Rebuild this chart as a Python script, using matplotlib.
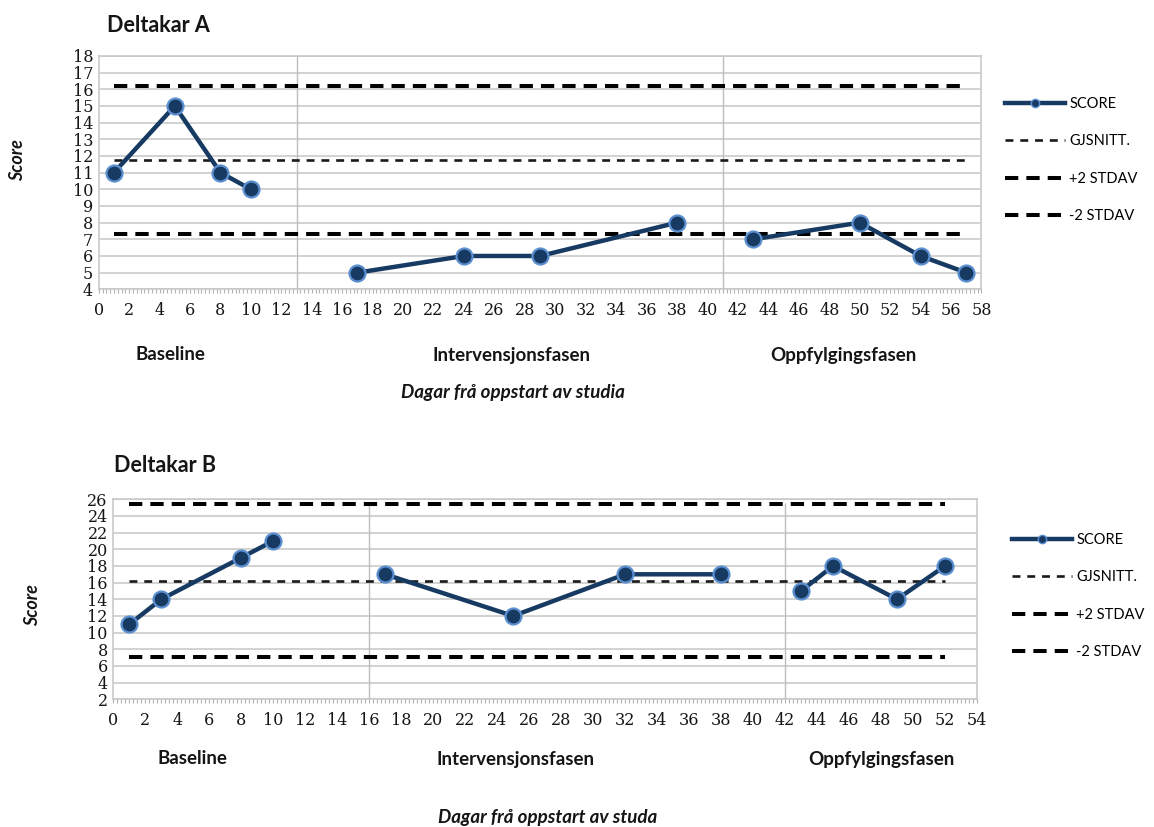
import matplotlib
matplotlib.use("Agg")
import matplotlib.pyplot as plt
from matplotlib.lines import Line2D
from matplotlib.ticker import MultipleLocator

# Deltakar A
dagar_a = [1, 5, 8, 10, 17, 24, 29, 38, 43, 50, 54, 57]
score_a = [11, 15, 11, 10, 5, 6, 6, 8, 7, 8, 6, 5]
fase_a = [[0, 4], [4, 8], [8, 12]]          # index slices for each phase
snitt_a = 11.75
pluss_a = 16.18
minus_a = 7.32
skilje_a = [13, 41]
linjespenn_a = [1, 57]

# Deltakar B
dagar_b = [1, 3, 8, 10, 17, 25, 32, 38, 43, 45, 49, 52]
score_b = [11, 14, 19, 21, 17, 12, 17, 17, 15, 18, 14, 18]
fase_b = [[0, 4], [4, 8], [8, 12]]
snitt_b = 16.25
pluss_b = 25.4
minus_b = 7.1
skilje_b = [16, 42]
linjespenn_b = [1, 52]

fasenamn = ["Baseline", "Intervensjonsfasen", "Oppfylgingsfasen"]
legend_namn = ["SCORE", "GJSNITT.", "+2 STDAV", "-2 STDAV"]

W, H = 1154, 827
navy = "#173a63"
kant = "#5b8fd0"
grid = "#c6c6c6"
serif = "DejaVu Serif"
sans = "Lato"
tekst = "#151515"

fig = plt.figure(figsize=(W / 100, H / 100), dpi=100)


def px(x, y):
    return x / W, 1 - y / H


def panel(rect, dagar, score, fase, snitt, pluss, minus, skilje, spenn,
          xmax, ymin, ymax, ystep, vline_top):
    ax = fig.add_axes(rect)
    ax.set_xlim(0, xmax)
    ax.set_ylim(ymin, ymax)
    ax.yaxis.set_major_locator(MultipleLocator(ystep))
    ax.xaxis.set_major_locator(MultipleLocator(2))
    ax.xaxis.set_minor_locator(MultipleLocator(0.25))
    ax.grid(axis="y", color=grid, lw=1.1)
    ax.set_axisbelow(True)
    for s in ax.spines.values():
        s.set_color(grid)
        s.set_linewidth(1.1)
    ax.tick_params(axis="y", length=0, labelsize=11.5, labelcolor=tekst, pad=4)
    ax.tick_params(axis="x", which="both", length=3, color="#b0b0b0", width=0.8,
                   labelsize=11.5, labelcolor=tekst, pad=6)
    for lab in ax.get_xticklabels() + ax.get_yticklabels():
        lab.set_fontfamily(serif)

    for v in skilje:
        ax.vlines(v, ymin, vline_top, color="#bdbdbd", lw=1.0)

    ax.plot(spenn, [pluss, pluss], color="black", lw=2.9, dashes=(3.3, 2.0))
    ax.plot(spenn, [minus, minus], color="black", lw=2.9, dashes=(3.3, 2.0))
    ax.plot(spenn, [snitt, snitt], color="#1a1a1a", lw=1.9, dashes=(3.0, 2.6))

    for a, b in fase:
        ax.plot(dagar[a:b], score[a:b], color=navy, lw=3.2, marker="o",
                ms=11.5, mfc=navy, mec=kant, mew=1.6, zorder=5)
    return ax


# --- Deltakar A ---
ax_a = panel([98.7 / W, 1 - 289.3 / H, (981.5 - 98.7) / W, (289.3 - 56) / H],
             dagar_a, score_a, fase_a, snitt_a, pluss_a, minus_a, skilje_a,
             linjespenn_a, 58, 4, 18, 1, 18)

# --- Deltakar B ---
ax_b = panel([113.3 / W, 1 - 699.3 / H, (977 - 113.3) / W, (699.3 - 499.3) / H],
             dagar_b, score_b, fase_b, snitt_b, pluss_b, minus_b, skilje_b,
             linjespenn_b, 54, 2, 26, 2, 25.5)

# titles
fig.text(*px(107, 25), "Deltakar A", fontfamily=sans, fontweight="bold",
         fontsize=15.5, va="center", ha="left", color=tekst)
fig.text(*px(114, 465), "Deltakar B", fontfamily=sans, fontweight="bold",
         fontsize=15.5, va="center", ha="left", color=tekst)

# y labels
fig.text(*px(18, 160), "Score", rotation=90, fontfamily=sans, fontweight="bold",
         fontstyle="italic", fontsize=13, ha="center", va="center", color=tekst)
fig.text(*px(33, 605), "Score", rotation=90, fontfamily=sans, fontweight="bold",
         fontstyle="italic", fontsize=13, ha="center", va="center", color=tekst)

# phase names and x labels
for namn, x in zip(fasenamn, [170, 512, 843]):
    fig.text(*px(x, 355), namn, fontfamily=sans, fontweight="bold",
             fontsize=13.5, ha="center", va="center", color=tekst)
for namn, x in zip(fasenamn, [192, 515, 881]):
    fig.text(*px(x, 759), namn, fontfamily=sans, fontweight="bold",
             fontsize=13.5, ha="center", va="center", color=tekst)

fig.text(*px(513, 393), "Dagar frå oppstart av studia", fontfamily=sans,
         fontweight="bold", fontstyle="italic", fontsize=13.5, ha="center",
         va="center", color=tekst)
fig.text(*px(548, 818), "Dagar frå oppstart av studa", fontfamily=sans,
         fontweight="bold", fontstyle="italic", fontsize=13.5, ha="center",
         va="center", color=tekst)

# legends
handles = [
    Line2D([], [], color=navy, lw=3.2, marker="o", ms=6, mfc=navy, mec=kant),
    Line2D([], [], color="#1a1a1a", lw=1.9, dashes=(3.0, 2.6)),
    Line2D([], [], color="black", lw=2.9, dashes=(3.3, 2.0)),
    Line2D([], [], color="black", lw=2.9, dashes=(3.3, 2.0)),
]
for ax, (lx, ly) in [(ax_a, (1005, 97)), (ax_b, (1012, 533))]:
    ax.legend(handles, legend_namn, loc="upper left",
              bbox_to_anchor=px(lx, ly), bbox_transform=fig.transFigure,
              frameon=False, borderpad=0, borderaxespad=0, handlelength=4.1,
              handletextpad=0.3, labelspacing=1.6,
              prop={"family": sans, "size": 10.5})

fig.savefig("out.png", dpi=100)
